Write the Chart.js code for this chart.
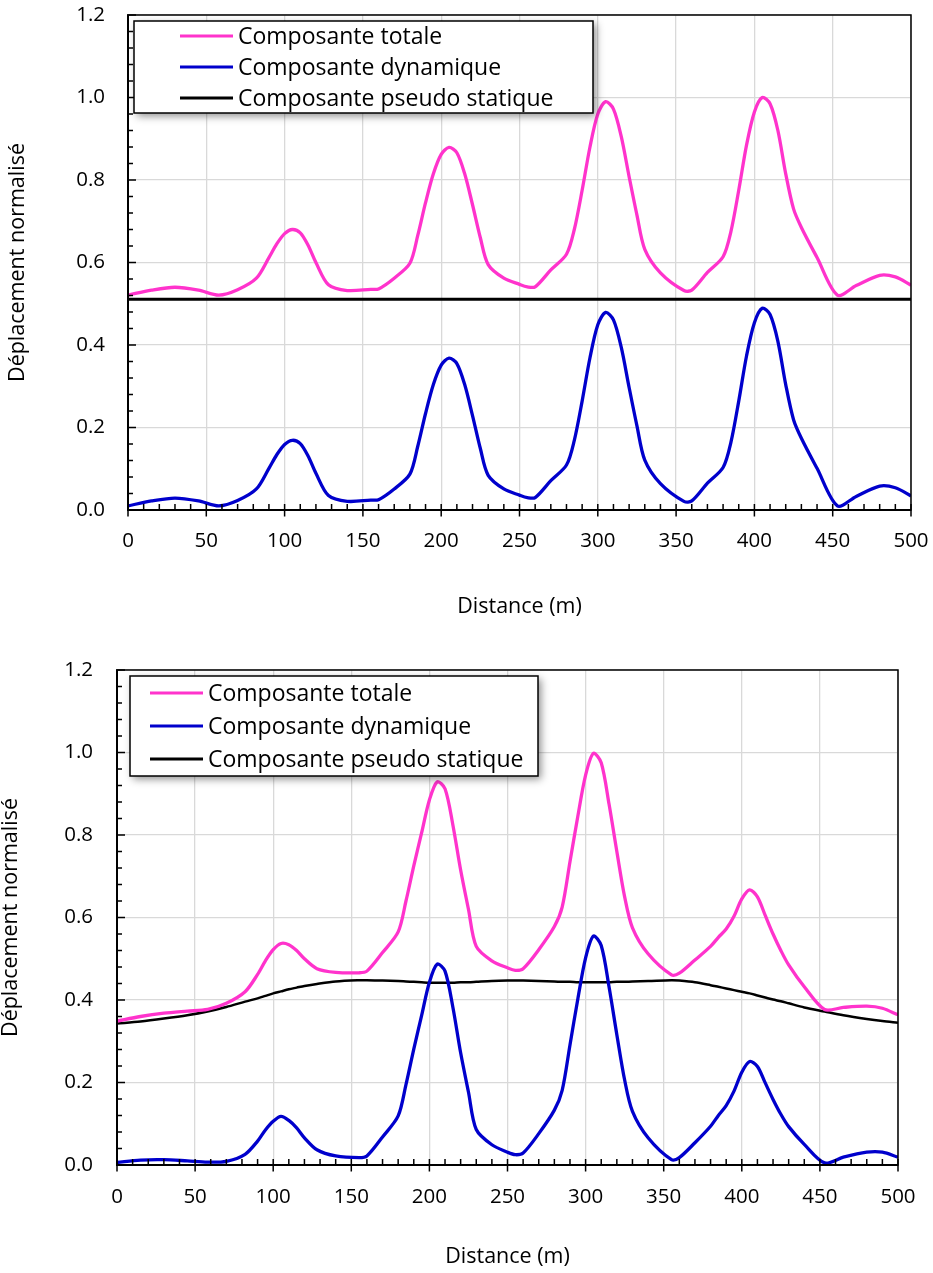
<!DOCTYPE html>
<html>
<head>
<meta charset="utf-8">
<script src="https://cdn.jsdelivr.net/npm/chart.js@4"></script>
<style>
  body { margin: 0; background: #fff; }
  canvas { position: absolute; left: 0; }
  #graphe1 { top: 0; }
  #graphe2 { top: 636px; }
</style>
</head>
<body>
<canvas id="graphe1" width="933" height="636"></canvas>
<canvas id="graphe2" width="933" height="637"></canvas>
<script>
const noms = ['Composante totale', 'Composante dynamique', 'Composante pseudo statique']

const distance = [0,15,30,45,58,70,82,90,95,100,105,110,115,120,128,140,155,160,170,180,185,190,195,200,205,210,215,220,225,230,240,250,255,260,270,280,285,290,295,300,305,310,315,320,325,330,340,355,360,370,380,385,390,395,400,405,410,415,420,425,430,440,453,465,480,490,500]

// graphe du haut
const totale1 = [0.521,0.533,0.540,0.533,0.521,0.534,0.562,0.612,0.645,0.670,
  0.680,0.672,0.642,0.600,0.546,0.532,0.535,0.536,0.562,0.598,
  0.665,0.745,0.815,0.862,0.879,0.866,0.815,0.740,0.660,0.595,
  0.562,0.547,0.541,0.541,0.582,0.620,0.680,0.775,0.880,0.960,
  0.990,0.972,0.905,0.808,0.715,0.632,0.575,0.532,0.533,0.576,
  0.614,0.675,0.775,0.885,0.965,1.000,0.985,0.920,0.815,0.730,
  0.685,0.612,0.521,0.544,0.569,0.565,0.545]
const dynamique1 = [0.010,0.022,0.029,0.022,0.010,0.023,0.051,0.101,0.134,0.159,
  0.169,0.161,0.131,0.089,0.035,0.021,0.024,0.025,0.051,0.087,
  0.154,0.234,0.304,0.351,0.368,0.355,0.304,0.229,0.149,0.084,
  0.051,0.036,0.030,0.030,0.071,0.109,0.169,0.264,0.369,0.449,
  0.479,0.461,0.394,0.297,0.204,0.121,0.064,0.021,0.022,0.065,
  0.103,0.164,0.264,0.374,0.454,0.489,0.474,0.409,0.304,0.219,
  0.174,0.101,0.010,0.033,0.058,0.054,0.034]
const statiqueX1 = [0, 500]
const statique1 = [0.511, 0.511]

// graphe du bas
const totale2 = [0.349,0.360,0.368,0.373,0.377,0.392,0.420,0.462,0.495,0.522,
  0.537,0.534,0.520,0.500,0.476,0.467,0.466,0.470,0.515,0.565,
  0.640,0.725,0.805,0.885,0.929,0.912,0.825,0.715,0.620,0.530,
  0.495,0.478,0.472,0.476,0.522,0.578,0.625,0.735,0.845,0.945,
  0.998,0.975,0.875,0.760,0.650,0.575,0.512,0.461,0.465,0.497,
  0.530,0.552,0.572,0.603,0.645,0.667,0.650,0.605,0.560,0.520,
  0.485,0.432,0.377,0.382,0.385,0.380,0.364]
const dynamique2 = [0.006,0.012,0.013,0.010,0.007,0.009,0.026,0.058,0.085,0.106,
  0.118,0.108,0.090,0.066,0.037,0.022,0.018,0.022,0.068,0.119,
  0.195,0.281,0.362,0.443,0.487,0.470,0.383,0.272,0.177,0.086,
  0.049,0.031,0.025,0.029,0.076,0.133,0.181,0.291,0.402,0.502,
  0.555,0.532,0.432,0.316,0.206,0.130,0.066,0.013,0.018,0.054,
  0.094,0.120,0.144,0.179,0.225,0.251,0.239,0.199,0.159,0.123,
  0.093,0.050,0.005,0.019,0.031,0.031,0.019]
const statique2 = [0.343,0.348,0.355,0.363,0.372,0.383,0.396,0.404,0.410,0.416,
  0.421,0.426,0.430,0.434,0.439,0.445,0.448,0.448,0.447,0.446,
  0.445,0.444,0.443,0.442,0.442,0.442,0.442,0.443,0.443,0.444,
  0.446,0.447,0.447,0.447,0.446,0.445,0.444,0.444,0.443,0.443,
  0.443,0.443,0.443,0.444,0.444,0.445,0.446,0.448,0.447,0.443,
  0.436,0.432,0.428,0.424,0.420,0.416,0.411,0.406,0.401,0.397,
  0.392,0.382,0.372,0.363,0.354,0.349,0.345]

const police = "'Open Sans', sans-serif"
const couleurs = ['#FF33CC', '#0000CC', '#000000']

function points(xs, ys){
    return xs.map((x, i) => ({ x: x, y: ys[i] }))
}

// cadre noir + graduations (majeures et mineures)
const cadre = {
    id: 'cadre',
    afterDatasetsDraw(chart){
        const { ctx, chartArea: a, scales: { x, y } } = chart
        ctx.save()
        ctx.strokeStyle = '#000'
        ctx.lineWidth = 1.5
        ctx.strokeRect(a.left, a.top, a.right - a.left, a.bottom - a.top)
        ctx.lineWidth = 2
        ctx.beginPath()
        ctx.moveTo(a.left, a.top)
        ctx.lineTo(a.left, a.bottom)
        ctx.lineTo(a.right, a.bottom)
        ctx.stroke()
        ctx.lineWidth = 1.5
        ctx.beginPath()
        for(let v = 0; v <= 500; v += 10){
            const px = x.getPixelForValue(v)
            const majeur = v % 50 === 0
            ctx.moveTo(px, a.bottom + (majeur ? 6.5 : 0))
            ctx.lineTo(px, a.bottom - 6)
        }
        for(let k = 0; k <= 30; k++){
            const py = y.getPixelForValue(k * 0.04)
            const majeur = k % 5 === 0
            ctx.moveTo(a.left - (majeur ? 1 : 0), py)
            ctx.lineTo(a.left + (majeur ? 8 : 5), py)
        }
        ctx.stroke()
        ctx.restore()
    }
}

// légende encadrée dans la zone du graphe
const legende = {
    id: 'legende',
    afterDraw(chart, args, opts){
        const { ctx } = chart
        ctx.save()
        ctx.shadowColor = 'rgba(0,0,0,0.45)'
        ctx.shadowBlur = 8
        ctx.shadowOffsetX = 3
        ctx.shadowOffsetY = 3
        ctx.fillStyle = '#fff'
        ctx.fillRect(opts.x, opts.y, opts.w, opts.h)
        ctx.shadowColor = 'transparent'
        ctx.strokeStyle = '#000'
        ctx.lineWidth = 1.5
        ctx.strokeRect(opts.x, opts.y, opts.w, opts.h)
        ctx.font = '23px ' + police
        ctx.textBaseline = 'middle'
        chart.data.datasets.forEach((ds, i) => {
            const ly = opts.lignes[i]
            ctx.strokeStyle = ds.borderColor
            ctx.lineWidth = 3.2
            ctx.beginPath()
            ctx.moveTo(opts.x1, ly)
            ctx.lineTo(opts.x2, ly)
            ctx.stroke()
            ctx.fillStyle = '#000'
            ctx.fillText(ds.label, opts.tx, ly + 1)
        })
        ctx.restore()
    }
}

function creerGraphe(id, series, geo){
    const ctx = document.getElementById(id)
    return new Chart(ctx, {
        type: 'line',
        data: {
            datasets: series.map((s, i) => ({
                label: noms[i],
                data: s.data,
                borderColor: couleurs[i],
                borderWidth: s.largeur,
                pointRadius: 0,
                tension: 0.3,
                fill: false
            }))
        },
        options: {
            responsive: false,
            animation: false,
            devicePixelRatio: 1,
            layout: { padding: geo.padding },
            plugins: {
                legend: { display: false },
                tooltip: { enabled: false },
                legende: geo.legende
            },
            scales: {
                x: {
                    type: 'linear',
                    min: 0,
                    max: 500,
                    afterFit: s => {
                        s.height = geo.hx
                        s.paddingLeft = 0
                        s.paddingRight = 0
                    },
                    border: { display: false },
                    grid: { color: '#d9d9d9', lineWidth: 1.3, drawTicks: false },
                    ticks: {
                        stepSize: 50,
                        padding: geo.padX,
                        color: '#000',
                        font: { family: police, size: 20.5, lineHeight: 1.2 }
                    },
                    title: {
                        display: true,
                        text: 'Distance (m)',
                        color: '#000',
                        padding: { top: 0, bottom: geo.titreX },
                        font: { family: police, size: 21.5, lineHeight: 1.2 }
                    }
                },
                y: {
                    min: 0,
                    max: 1.2,
                    afterFit: s => {
                        s.width = geo.ly
                        s.paddingTop = 0
                        s.paddingBottom = 0
                    },
                    border: { display: false },
                    grid: { color: '#d9d9d9', lineWidth: 1.3, drawTicks: false },
                    ticks: {
                        stepSize: 0.2,
                        padding: geo.padY,
                        color: '#000',
                        font: { family: police, size: 20.5, lineHeight: 1.2 },
                        callback: v => v.toFixed(1)
                    },
                    title: {
                        display: true,
                        text: 'Déplacement normalisé',
                        color: '#000',
                        padding: { top: geo.titreY, bottom: 0 },
                        font: { family: police, size: 21.5, lineHeight: 1.0 }
                    }
                }
            }
        },
        plugins: [cadre, legende]
    })
}

creerGraphe('graphe1', [
    { data: points(distance, totale1), largeur: 3.3 },
    { data: points(distance, dynamique1), largeur: 3.3 },
    { data: points(statiqueX1, statique1), largeur: 3 }
], {
    padding: { top: 15, right: 22, left: 0, bottom: 0 },
    hx: 126, ly: 128, padX: 19, padY: 23, titreX: 16, titreY: 7,
    legende: { x: 134, y: 21, w: 459, h: 92, x1: 180, x2: 233, tx: 238, lignes: [36, 67, 98] }
})

creerGraphe('graphe2', [
    { data: points(distance, totale2), largeur: 3.3 },
    { data: points(distance, dynamique2), largeur: 3.3 },
    { data: points(distance, statique2), largeur: 2.5 }
], {
    padding: { top: 34, right: 35, left: 0, bottom: 0 },
    hx: 108, ly: 117, padX: 20, padY: 24, titreX: 3, titreY: 0,
    legende: { x: 130, y: 40, w: 408, h: 100, x1: 150, x2: 203, tx: 208, lignes: [57, 90, 123] }
})
</script>
</body>
</html>
